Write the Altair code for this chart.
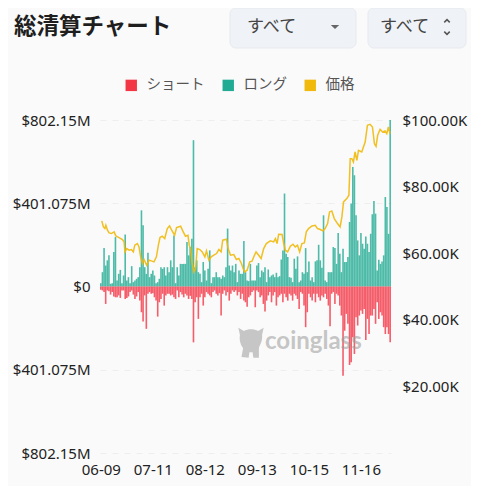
import altair as alt
import pandas as pd

chart_title = "総清算チャート"
series_names = ["ショート", "ロング", "価格"]
series_colors = ["#F23645", "#22AB94", "#F0B90B"]
dropdown_text = "すべて"
watermark = "coinglass"
tick_dates = ["2024-06-09", "2024-07-11", "2024-08-12", "2024-09-13", "2024-10-15", "2024-11-16"]
left_ticks = [-802.15, -401.075, 0, 401.075, 802.15]
right_ticks = [20, 40, 60, 80, 100]
start_date = "2024-06-09"

long_m = [
    16,69,185,101,126,150,13,16,166,238,
    29,61,80,16,53,250,29,45,16,98,
    21,29,37,45,93,367,295,93,61,163,
    45,61,77,53,16,21,37,93,85,93,
    53,93,69,126,93,246,16,93,53,109,
    109,109,109,214,150,190,230,705,93,126,
    69,61,21,118,77,29,85,174,16,45,
    45,69,45,45,37,53,45,93,279,101,
    77,101,69,109,21,77,61,61,219,69,
    29,26,
    109,29,29,29,101,113,45,77,69,93,
    21,82,45,53,58,45,66,45,50,130,
    174,448,
    158,142,45,42,21,134,85,145,21,29,
    69,61,185,69,121,29,45,21,121,126,
    201,126,90,343,
    29,21,69,69,69,190,185,109,258,158,
    69,182,118,118,142,311,400,576,
    536,343,222,150,258,206,182,241,206,166,
    254,348,412,351,77,129,109,121,150,431,
    383,254,802,
]
short_m = [
    16,19,27,84,19,23,39,27,48,52,
    52,43,55,19,19,60,55,48,27,19,
    39,60,48,27,68,124,169,43,204,35,
    27,35,32,52,68,145,76,60,35,92,
    43,35,35,43,39,52,60,19,52,27,
    39,52,35,43,60,45,60,269,76,52,
    156,52,35,92,52,27,35,43,52,27,
    19,35,43,32,140,35,19,43,27,68,
    35,19,27,19,43,27,60,35,68,76,
    97,52,
    43,27,19,100,19,27,52,43,84,121,
    68,43,27,76,43,27,92,52,43,35,
    76,35,52,68,35,43,68,35,43,60,
    108,27,35,92,196,124,35,52,68,35,
    76,35,52,68,43,52,35,60,92,192,
    35,27,84,35,43,92,140,430,213,132,
    180,378,365,245,325,148,188,140,116,132,
    108,258,156,229,140,140,108,180,76,156,
    124,140,196,229,196,229,269,
]
price_days = [
    .6,1.6,2.5,3.1,4.1,5.1,6.5,8.2,9.2,11.2,13.3,14.3,14.9,16,17.4,18.8,20,20.9,22.5,23.5,
    24.5,25.6,26.6,28.2,29.7,31.1,32.7,34.2,35.4,36.4,37.8,39.3,40.9,42.3,43.6,45.4,46.6,49.1,50.7,52.1,
    53.6,54.4,55.2,56.2,57.3,58.3,59.3,60.9,62.4,64,65,66.5,67.9,69.5,71.2,72.6,74,75,77.3,78.3,
    79.8,81.8,83.4,84.9,86.5,87.5,88.5,90,91.6,93,94.5,95.5,97.1,98.6,100.2,101.8,104.3,106.3,107.4,108.4,
    109.4,111.5,112.5,113.5,114.9,116.6,118.2,119.6,121,122.3,123.7,125.2,126.4,127.8,129.9,131.9,133.3,135,136.6,138,
    139.5,140.7,142.1,143.6,145.6,147.2,148.3,149.3,151.3,152.6,153.4,154.4,155.4,156.4,157.5,158.5,160.5,162.6,164,165.6,
    167.1,168.3,169.3,170.3,171.8,173.4,174.8,175.9,176.9,177.9,
]
price_k = [
    69.7,67.9,67.4,68.4,66.9,66.1,65.9,66.4,65.2,64.7,64.1,63.4,60.4,61.4,60.9,61.1,60.4,62.4,62.9,61.9,
    58.9,56.9,58.1,56.4,57.9,57.7,57.4,58.9,62.4,64.7,65.1,64.4,67.4,68.2,66.9,65.4,67.7,68.1,66.4,65.1,
    65.4,62.4,61.4,56.9,54.4,55.4,61.4,61.1,60.4,58.9,60.7,57.9,58.9,59.4,59.9,61.1,60.4,63.9,64.2,61.4,
    59.4,59.6,58.1,58.4,56.9,55.4,54.4,54.9,57.4,57.6,59.4,60.4,59.4,58.4,61.4,62.9,63.7,63.4,64.4,62.9,
    65.7,65.6,62.9,60.9,60.4,62.1,62.7,61.9,62.4,60.4,62.9,63.1,66.4,67.4,68.2,68.4,67.4,67.1,66.7,67.4,
    68.9,72.4,72.7,70.4,68.9,67.9,70.9,75.4,76.4,77.4,88.4,88.4,87.4,90.4,87.9,90.9,90.4,93.4,98.4,98.7,
    97.9,92.9,92.1,95.4,97.2,96.4,96.7,95.9,97.9,95.9,
]

start = pd.Timestamp(start_date)
bars = pd.DataFrame(
    [{"date": start + pd.Timedelta(days=i), "v": v, "s": series_names[1]} for i, v in enumerate(long_m)]
    + [{"date": start + pd.Timedelta(days=i), "v": -v, "s": series_names[0]} for i, v in enumerate(short_m)]
)
price = pd.DataFrame({
    "date": [start + pd.Timedelta(days=d) for d in price_days],
    "p": price_k,
    "s": series_names[2],
})

color = alt.Color(
    "s:N",
    scale=alt.Scale(domain=series_names, range=series_colors),
    legend=alt.Legend(
        title=None, orient="none", legendX=24, legendY=-42, direction="horizontal",
        symbolType="square", symbolSize=130, symbolOpacity=1, symbolStrokeWidth=0,
        labelFont="Noto Sans CJK JP", labelFontSize=14.5, labelColor="#555555",
        columnPadding=16, labelOffset=8,
    ),
)
x = alt.X(
    "date:T",
    scale=alt.Scale(domain=["2024-06-08T12:00:00", "2024-12-04T12:00:00"], padding=0),
    axis=alt.Axis(
        title=None, values=tick_dates, format="%m-%d", grid=False, domain=False, ticks=False,
        labelFont="Noto Sans", labelFontSize=15, labelColor="#222222", labelPadding=9,
        labelOverlap=False, labelFlush=False,
    ),
)
bar = alt.Chart(bars).mark_bar(size=1.6, opacity=0.8).encode(
    x=x,
    y=alt.Y(
        "v:Q", stack=None,
        scale=alt.Scale(domain=[-802.15, 802.15], nice=False),
        axis=alt.Axis(
            title=None, orient="left", values=left_ticks, domain=False, ticks=False,
            gridColor="#EEEEEE", gridDash=[6, 6], labelPadding=10,
            labelFont="Noto Sans", labelFontSize=15, labelColor="#222222",
            labelExpr="datum.value==0?'$0':'$'+abs(datum.value)+'M'",
        ),
    ),
    color=color,
)
line = alt.Chart(price).mark_line(strokeWidth=1.5, opacity=0.9).encode(
    x=x,
    y=alt.Y(
        "p:Q",
        scale=alt.Scale(domain=[0, 100], nice=False),
        axis=alt.Axis(
            title=None, orient="right", values=right_ticks, domain=False, ticks=False,
            gridColor="#EEEEEE", gridDash=[6, 6], labelPadding=11,
            labelFont="Noto Sans", labelFontSize=15, labelColor="#222222",
            labelExpr="'$'+format(datum.value,'.2f')+'K'",
        ),
    ),
    color=color,
)

# Page furniture, positioned relative to the plot origin at (100, 120)
d = pd.DataFrame({"a": [0]})
def rect(x0, x1, y0, y1, fill, stroke=None, r=6):
    kw = dict(fill=fill, cornerRadius=r)
    if stroke:
        kw.update(stroke=stroke, strokeWidth=1)
    return alt.Chart(d).mark_rect(**kw).encode(
        x=alt.value(x0 - 100), x2=alt.value(x1 - 100), y=alt.value(y0 - 120), y2=alt.value(y1 - 120))
def label(t, px, py, size, col, font="Noto Sans CJK JP", weight="normal", align="left", op=1):
    return alt.Chart(d).mark_text(text=t, font=font, fontSize=size, color=col, fontWeight=weight,
                                  align=align, baseline="middle", opacity=op).encode(
        x=alt.value(px - 100), y=alt.value(py - 120))
def glyph(shape, px, py, size, fill=None, stroke=None, sw=1.5, op=1):
    kw = dict(shape=shape, size=size, filled=fill is not None, opacity=op)
    if fill:
        kw["fill"] = fill
        kw["strokeWidth"] = 0
    if stroke:
        kw["stroke"] = stroke
        kw["strokeWidth"] = sw
    return alt.Chart(d).mark_point(**kw).encode(x=alt.value(px - 100), y=alt.value(py - 120))

mascot = "M-0.8,-0.9L-0.45,-0.7C-0.2,-0.85 0.2,-0.85 0.45,-0.7L0.8,-0.9L0.7,-0.45C0.75,0 0.5,0.25 0.5,0.4L0.5,1L0.15,1L0.1,0.65L-0.1,0.65L-0.15,1L-0.6,0.95L-0.5,0.4C-0.7,0.1 -0.75,-0.2 -0.7,-0.45Z"
furniture = [
    rect(230, 356, 8, 48, "#EFF2F6", "#E6E9EE"),
    rect(368, 466, 8, 48, "#EFF2F6", "#E6E9EE"),
    label(chart_title, 14, 27, 22.5, "#1E1E1E", weight="bold"),
    label(dropdown_text, 247, 27, 17, "#444444"),
    label(dropdown_text, 380, 27, 17, "#444444"),
    glyph("M-1,-0.5L1,-0.5L0,0.5Z", 335, 27, 70, fill="#666666"),
    glyph("M-1,0.5L0,-0.5L1,0.5", 447, 21, 30, stroke="#555555"),
    glyph("M-1,-0.5L0,0.5L1,-0.5", 447, 33, 30, stroke="#555555"),
    glyph(mascot, 251, 342, 1000, fill="#9A9A9A", op=0.55),
    label(watermark, 265, 342, 24, "#9A9A9A", font="Lato", weight="bold", op=0.55),
]

chart = alt.layer(bar, line, *furniture).resolve_scale(y="independent").properties(
    width=291, height=333,
    padding={"left": 92, "top": 112, "right": 80, "bottom": 33},
    autosize=alt.AutoSizeParams(type="none"),
).configure(background="#FAFAFA").configure_view(stroke=None)

chart.save("out.html", embed_options={"renderer": "svg", "actions": False})
